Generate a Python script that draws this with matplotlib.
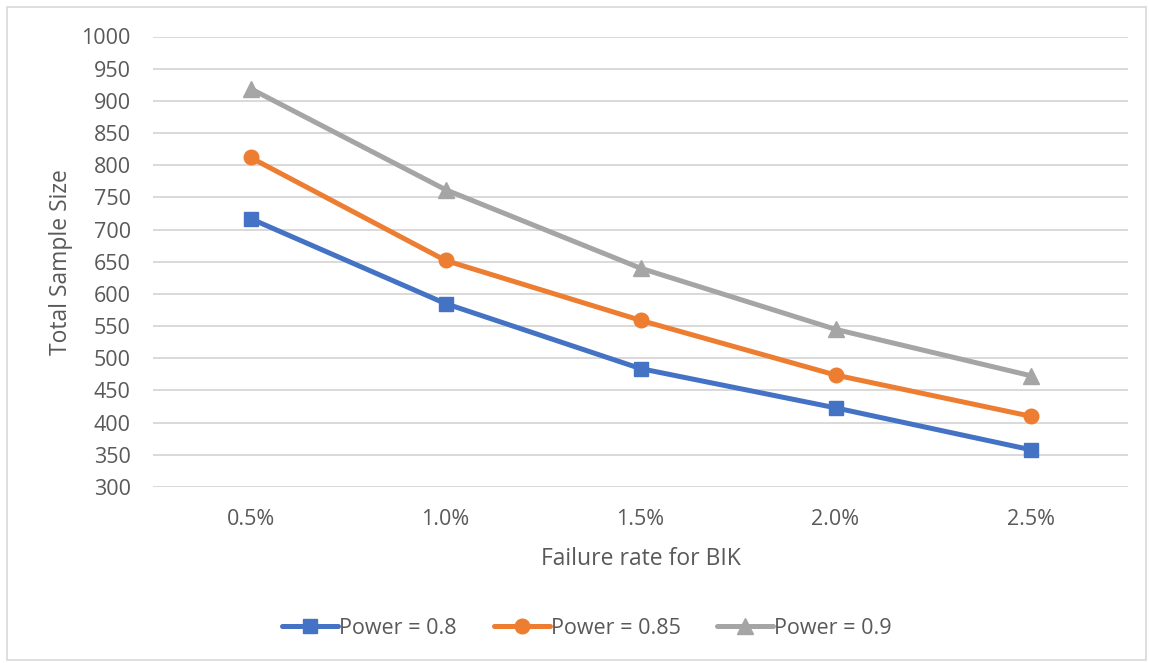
import matplotlib
matplotlib.use("Agg")
import matplotlib.pyplot as plt
from matplotlib.patches import Rectangle

plt.rcParams['font.family'] = ['Open Sans', 'DejaVu Sans']

categories = ["0.5%", "1.0%", "1.5%", "2.0%", "2.5%"]
power_080 = [717, 585, 484, 423, 358]
power_085 = [812, 652, 559, 474, 410]
power_090 = [919, 762, 640, 545, 473]
series_labels = ["Power = 0.8", "Power = 0.85", "Power = 0.9"]
yticks = list(range(300, 1001, 50))

text_color = "#595959"
grid_color = "#D9D9D9"

fig = plt.figure(figsize=(11.49, 6.63), dpi=100)
W, H = 1149, 663
ax = fig.add_axes([153 / W, 1 - 487 / H, (1128 - 153) / W, (487 - 36.5) / H])

x = list(range(len(categories)))
ax.plot(x, power_080, color="#4472C4", lw=3.6, marker="s", ms=10,
        label=series_labels[0], solid_capstyle="round")
ax.plot(x, power_085, color="#ED7D31", lw=3.6, marker="o", ms=10.5,
        label=series_labels[1], solid_capstyle="round")
ax.plot(x, power_090, color="#A5A5A5", lw=3.6, marker="^", ms=11,
        label=series_labels[2], solid_capstyle="round")

ax.set_xlim(-0.5, len(categories) - 0.5)
ax.set_ylim(300, 1000)
ax.set_yticks(yticks)
ax.set_xticks(x)
ax.set_xticklabels(categories)
ax.yaxis.grid(True, color=grid_color, lw=1.4)
ax.set_axisbelow(True)
for s in ax.spines.values():
    s.set_visible(False)
ax.tick_params(axis="both", length=0, labelsize=15.5, colors=text_color)
ax.tick_params(axis="y", pad=16)
ax.tick_params(axis="x", pad=16)

ax.set_xlabel("Failure rate for BIK", fontsize=16.5, color=text_color, labelpad=12)
ax.set_ylabel("Total Sample Size", fontsize=16.5, color=text_color, labelpad=6)

fig.legend(loc="center", bbox_to_anchor=(587 / W, 1 - 628 / H), ncol=3,
           frameon=False, fontsize=15.5, handlelength=2.6, handletextpad=0.05,
           columnspacing=1.7, labelcolor=text_color)

# Light chart border
fig.patches.append(Rectangle((7 / W, 1 - 660 / H), (1146 - 7) / W, (660 - 7) / H,
                             transform=fig.transFigure, fill=False,
                             edgecolor="#D9D9D9", lw=1.2))

fig.savefig("out.png", dpi=100, facecolor="white")
